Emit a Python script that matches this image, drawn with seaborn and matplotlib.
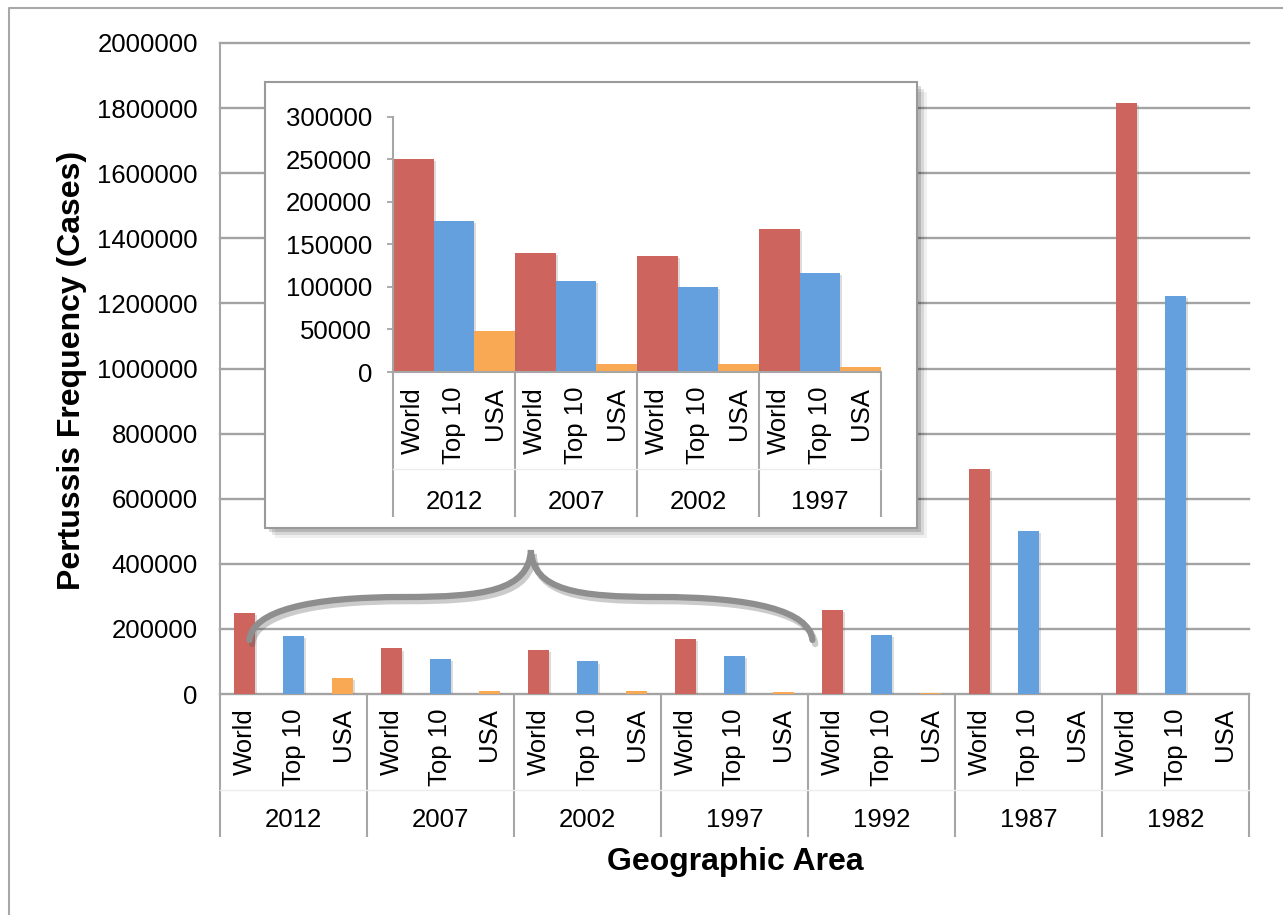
import numpy as np
import pandas as pd
import matplotlib
matplotlib.use("Agg")
import matplotlib.pyplot as plt
import matplotlib.transforms as mtransforms
import matplotlib.patheffects as pe
from matplotlib.patches import Rectangle, PathPatch
from matplotlib.path import Path
from matplotlib.lines import Line2D
import seaborn as sns

# ---- data -------------------------------------------------------------
years = ["2012", "2007", "2002", "1997", "1992", "1987", "1982"]
areas = ["World", "Top 10", "USA"]
world = [250000, 140000, 136500, 168000, 258000, 690000, 1815000]
top10 = [177000, 107000, 100000, 116500, 181000, 501000, 1222000]
usa = [48500, 9800, 9800, 6200, 4000, 0, 0]
inset_years = years[:4]
main_ticks = list(range(0, 2000001, 200000))
inset_ticks = list(range(0, 300001, 50000))
colors = ["#CD655E", "#63A0DD", "#F9A854"]

df = pd.DataFrame({
    "year": np.repeat(years, 3),
    "area": areas * len(years),
    "cases": [v for trio in zip(world, top10, usa) for v in trio],
})
df_inset = df[df["year"].isin(inset_years)]

# ---- style ------------------------------------------------------------
plt.rcParams["font.family"] = ["Liberation Sans", "DejaVu Sans"]
FS = 18.5
GRID = "#a3a3a3"
LINE = "#a6a6a6"

W, H = 1283, 915
fig = plt.figure(figsize=(W / 100, H / 100), dpi=100)
fig.patch.set_facecolor("white")


def fx(px):
    return px / W


def fy(py):
    return 1 - py / H


# outer frame
fig.add_artist(Line2D([fx(9), fx(9), 1.05], [-0.05, fy(8), fy(8)],
                      transform=fig.transFigure, color="#a8a8a8", lw=1.5))

bar_fx = [pe.SimplePatchShadow(offset=(1.5, -1.5), shadow_rgbFace="#777777", alpha=0.25),
          pe.Normal()]


def group_labels(ax, groups, ax_h_px, sub_top, faint_y, year_y, sep_bottom):
    trans = mtransforms.blended_transform_factory(ax.transData, ax.transAxes)
    n = len(groups)
    for i, g in enumerate(groups):
        for j, a in enumerate(areas):
            ax.text(i + (j - 1) / 3, -sub_top / ax_h_px, a, rotation=90,
                    ha="center", va="top", fontsize=FS, transform=trans, clip_on=False)
        ax.text(i, -year_y / ax_h_px, g, ha="center", va="center",
                fontsize=FS, transform=trans, clip_on=False)
    for i in range(n + 1):
        ax.plot([i - 0.5, i - 0.5], [0, -sep_bottom / ax_h_px], color=LINE, lw=1.5,
                transform=trans, clip_on=False, solid_capstyle="butt")
    ax.plot([-0.5, n - 0.5], [-faint_y / ax_h_px] * 2, color="#ececec", lw=1.0,
            transform=trans, clip_on=False)


# ---- main chart -------------------------------------------------------
ax = fig.add_axes([fx(220), fy(694), (1249 - 220) / W, (694 - 43) / H])
sns.barplot(data=df, x="year", y="cases", hue="area", order=years, hue_order=areas,
            palette=colors, width=1.0, gap=0.59, saturation=1, errorbar=None,
            linewidth=0, legend=False, ax=ax, zorder=2)
for p in ax.patches:
    p.set_path_effects(bar_fx)
ax.set_xlim(-0.5, len(years) - 0.5)
ax.set_ylim(0, 2000000)
ax.set_yticks(main_ticks)
ax.set_yticklabels([str(t) for t in main_ticks])
ax.set_xticks([])
ax.set_xlabel("")
ax.set_ylabel("")
ax.tick_params(axis="y", length=0, pad=16, labelsize=FS)
for t in main_ticks:
    ax.axhline(t, color=GRID, lw=1.7, zorder=0.5, clip_on=False)
for s in ["top", "right", "bottom"]:
    ax.spines[s].set_visible(False)
ax.spines["left"].set_color(LINE)
ax.spines["left"].set_linewidth(1.5)
ax.set_facecolor("white")

group_labels(ax, years, 651, sub_top=14, faint_y=96, year_y=126, sep_bottom=143)

# curly brace spanning the first four groups
verts = [(-0.30, 166000),
         (-0.28, 255000), (0.10, 298000), (0.75, 298000),
         (1.30, 298000), (1.60, 318000), (1.615, 442000),
         (1.63, 318000), (1.93, 298000), (2.48, 298000),
         (3.13, 298000), (3.51, 255000), (3.53, 166000)]
codes = [Path.MOVETO] + [Path.CURVE4] * 12
brace = PathPatch(Path(verts, codes), facecolor="none", edgecolor="#8e8e8e", lw=4.5,
                  capstyle="round", zorder=6)
brace.set_path_effects([pe.SimpleLineShadow(offset=(2, -3), shadow_color="#555555", alpha=0.3),
                        pe.Normal()])
ax.add_patch(brace)

fig.text(fx(72), fy(370), "Pertussis Frequency (Cases)", rotation=90, ha="center",
         va="center", fontsize=23, fontweight="bold")
fig.text(fx(735), fy(862), "Geographic Area", ha="center", va="center",
         fontsize=23, fontweight="bold")

# ---- inset panel ------------------------------------------------------
box = Rectangle((fx(265), fy(528)), (917 - 265) / W, (528 - 82) / H,
                transform=fig.transFigure, facecolor="white", edgecolor="#9a9a9a",
                lw=1.5, zorder=2)
box.set_path_effects([
    pe.SimplePatchShadow(offset=(7, -7), shadow_rgbFace="#000000", alpha=0.06),
    pe.SimplePatchShadow(offset=(5, -5), shadow_rgbFace="#000000", alpha=0.10),
    pe.SimplePatchShadow(offset=(3, -3), shadow_rgbFace="#000000", alpha=0.15),
    pe.Normal()])
fig.add_artist(box)

ax2 = fig.add_axes([fx(393), fy(372), (881 - 393) / W, (372 - 116.7) / H])
ax2.set_zorder(3)
ax2.set_facecolor("none")
sns.barplot(data=df_inset, x="year", y="cases", hue="area", order=inset_years,
            hue_order=areas, palette=colors, width=1.0, gap=0, saturation=1,
            errorbar=None, linewidth=0, legend=False, ax=ax2, zorder=2)
for p in ax2.patches:
    p.set_path_effects(bar_fx)
ax2.set_xlim(-0.5, len(inset_years) - 0.5)
ax2.set_ylim(0, 300000)
ax2.set_yticks(inset_ticks)
ax2.set_yticklabels([str(t) for t in inset_ticks])
ax2.set_xticks([])
ax2.set_xlabel("")
ax2.set_ylabel("")
ax2.tick_params(axis="y", length=4, width=1.3, color=LINE, pad=11, labelsize=FS)
for s in ["top", "right"]:
    ax2.spines[s].set_visible(False)
for s in ["left", "bottom"]:
    ax2.spines[s].set_color(LINE)
    ax2.spines[s].set_linewidth(1.5)

group_labels(ax2, inset_years, 255.3, sub_top=15, faint_y=97, year_y=130, sep_bottom=145)

fig.savefig("out.png", dpi=100, facecolor="white")
